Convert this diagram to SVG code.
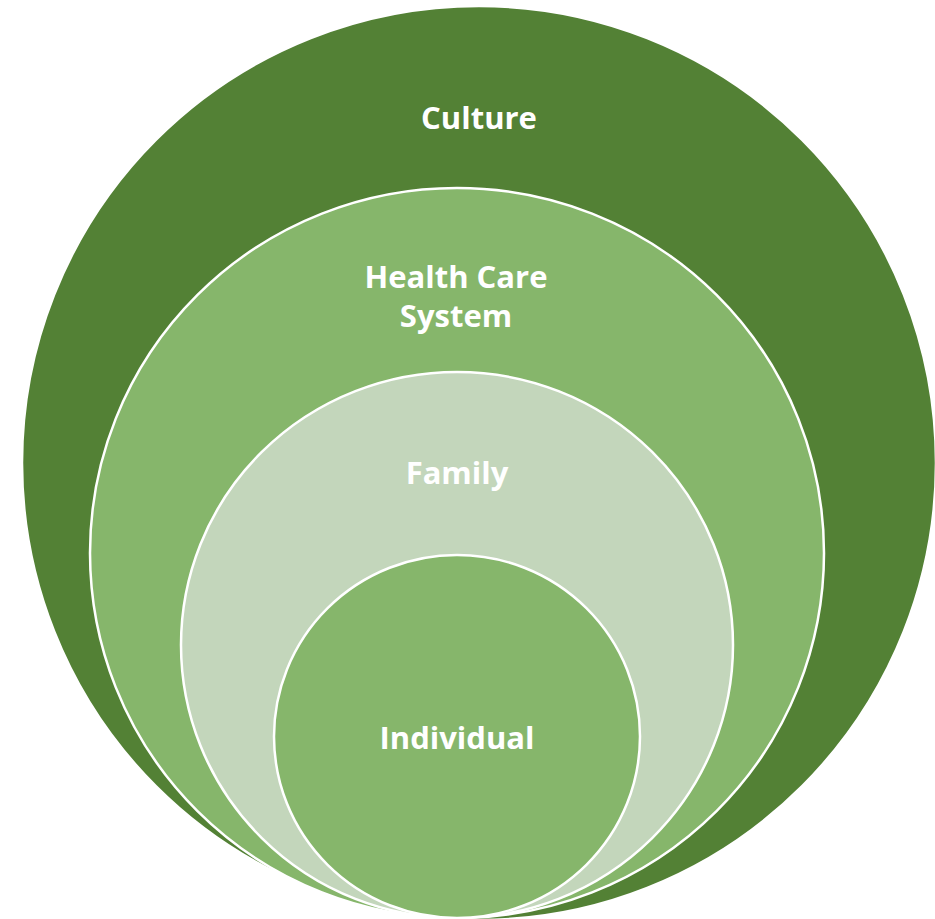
<svg xmlns="http://www.w3.org/2000/svg" width="935" height="919" viewBox="0 0 935 919">
  <style>
    .ring { stroke: #ffffff; stroke-width: 2.5; }
    .label { font-family: "Open Sans", "Liberation Sans", sans-serif; font-weight: 700; font-size: 31px; fill: #ffffff; text-anchor: middle; }
  </style>
  <rect width="935" height="919" fill="#ffffff"/>
  <g id="culture">
    <ellipse class="ring" cx="479" cy="463" rx="457" ry="457" fill="#538135"/>
    <text class="label" x="479" y="129">Culture</text>
  </g>
  <g id="health-care-system">
    <ellipse class="ring" cx="457" cy="553" rx="367" ry="365" fill="#86b66b"/>
    <text class="label" x="456" y="288">Health Care</text>
    <text class="label" x="456" y="327">System</text>
  </g>
  <g id="family">
    <ellipse class="ring" cx="457" cy="645" rx="276" ry="273" fill="#c3d6bb"/>
    <text class="label" x="457" y="484">Family</text>
  </g>
  <g id="individual">
    <ellipse class="ring" cx="457" cy="736.5" rx="183" ry="181.5" fill="#86b66b"/>
    <text class="label" x="457" y="749">Individual</text>
  </g>
  <g id="connectors"/>
</svg>
